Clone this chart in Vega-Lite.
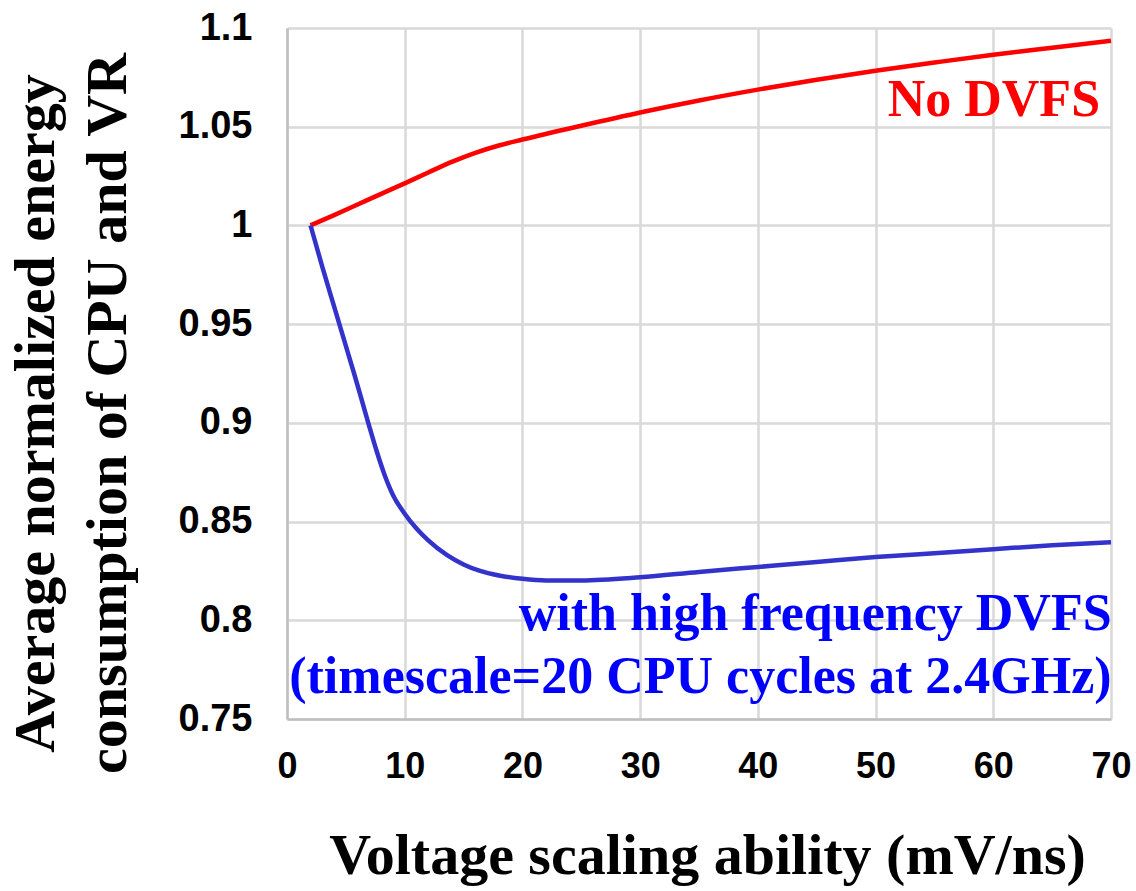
{
  "$schema": "https://vega.github.io/schema/vega-lite/v6.json",
  "width": 824,
  "height": 691,
  "autosize": {"type": "none"},
  "padding": {"left": 287, "top": 28, "right": 25, "bottom": 172},
  "background": "white",
  "config": {"view": {"stroke": null}},
  "datasets": {
    "curves": [
      {"series": "No DVFS", "x": 2, "y": 1.0},
      {"series": "No DVFS", "x": 4, "y": 1.0052},
      {"series": "No DVFS", "x": 6, "y": 1.0106},
      {"series": "No DVFS", "x": 8, "y": 1.016},
      {"series": "No DVFS", "x": 10, "y": 1.0213},
      {"series": "No DVFS", "x": 12, "y": 1.0268},
      {"series": "No DVFS", "x": 14, "y": 1.0322},
      {"series": "No DVFS", "x": 16, "y": 1.0368},
      {"series": "No DVFS", "x": 18, "y": 1.0405},
      {"series": "No DVFS", "x": 20, "y": 1.0435},
      {"series": "No DVFS", "x": 25, "y": 1.0505},
      {"series": "No DVFS", "x": 30, "y": 1.0572},
      {"series": "No DVFS", "x": 35, "y": 1.0633},
      {"series": "No DVFS", "x": 40, "y": 1.0688},
      {"series": "No DVFS", "x": 45, "y": 1.0738},
      {"series": "No DVFS", "x": 50, "y": 1.0783},
      {"series": "No DVFS", "x": 55, "y": 1.0825},
      {"series": "No DVFS", "x": 60, "y": 1.0865},
      {"series": "No DVFS", "x": 65, "y": 1.09},
      {"series": "No DVFS", "x": 70, "y": 1.0935},
      {"series": "High frequency DVFS", "x": 2, "y": 1.0},
      {"series": "High frequency DVFS", "x": 3, "y": 0.979},
      {"series": "High frequency DVFS", "x": 4, "y": 0.959},
      {"series": "High frequency DVFS", "x": 5, "y": 0.939},
      {"series": "High frequency DVFS", "x": 5.7, "y": 0.925},
      {"series": "High frequency DVFS", "x": 6.4, "y": 0.9105},
      {"series": "High frequency DVFS", "x": 7, "y": 0.898},
      {"series": "High frequency DVFS", "x": 7.6, "y": 0.886},
      {"series": "High frequency DVFS", "x": 8.3, "y": 0.8735},
      {"series": "High frequency DVFS", "x": 9, "y": 0.8635},
      {"series": "High frequency DVFS", "x": 10, "y": 0.854},
      {"series": "High frequency DVFS", "x": 11, "y": 0.8465},
      {"series": "High frequency DVFS", "x": 12, "y": 0.8405},
      {"series": "High frequency DVFS", "x": 13.6, "y": 0.833},
      {"series": "High frequency DVFS", "x": 15, "y": 0.8283},
      {"series": "High frequency DVFS", "x": 16.4, "y": 0.825},
      {"series": "High frequency DVFS", "x": 18, "y": 0.8227},
      {"series": "High frequency DVFS", "x": 20, "y": 0.821},
      {"series": "High frequency DVFS", "x": 22, "y": 0.8202},
      {"series": "High frequency DVFS", "x": 25, "y": 0.8202},
      {"series": "High frequency DVFS", "x": 30, "y": 0.8218},
      {"series": "High frequency DVFS", "x": 35, "y": 0.8245},
      {"series": "High frequency DVFS", "x": 40, "y": 0.827},
      {"series": "High frequency DVFS", "x": 45, "y": 0.8295},
      {"series": "High frequency DVFS", "x": 50, "y": 0.832},
      {"series": "High frequency DVFS", "x": 55, "y": 0.834},
      {"series": "High frequency DVFS", "x": 60, "y": 0.836},
      {"series": "High frequency DVFS", "x": 65, "y": 0.838},
      {"series": "High frequency DVFS", "x": 70, "y": 0.8395}
    ]
  },
  "layer": [
    {
      "data": {"name": "curves"},
      "mark": {"type": "line", "interpolate": "monotone", "strokeWidth": 4.5},
      "encoding": {
        "x": {
          "field": "x",
          "type": "quantitative",
          "scale": {"domain": [0, 70], "nice": false, "zero": false},
          "axis": {
            "title": "Voltage scaling ability (mV/ns)",
            "values": [0, 10, 20, 30, 40, 50, 60, 70],
            "labelFont": "Liberation Sans",
            "labelFontSize": 36,
            "labelFontWeight": "bold",
            "labelColor": "#000000",
            "labelPadding": 30,
            "labelFlush": false,
            "labelOverlap": false,
            "ticks": false,
            "domainColor": "#bfbfbf",
            "domainWidth": 2.5,
            "gridColor": "#d9d9d9",
            "gridWidth": 2.5,
            "titleFont": "Liberation Serif",
            "titleFontSize": 58,
            "titleFontWeight": "bold",
            "titleColor": "#000000",
            "titleX": 420,
            "titleY": 154,
            "titleAlign": "center",
            "titleBaseline": "alphabetic"
          }
        },
        "y": {
          "field": "y",
          "type": "quantitative",
          "scale": {"domain": [0.75, 1.1], "nice": false, "zero": false},
          "axis": {
            "title": ["Average normalized energy", "consumption of CPU and VR"],
            "values": [0.75, 0.8, 0.85, 0.9, 0.95, 1.0, 1.05, 1.1],
            "format": ".2~f",
            "labelFont": "Liberation Sans",
            "labelFontSize": 38,
            "labelFontWeight": "bold",
            "labelColor": "#000000",
            "labelPadding": 35,
            "labelOverlap": false,
            "ticks": false,
            "domainColor": "#bfbfbf",
            "domainWidth": 2.5,
            "gridColor": "#d9d9d9",
            "gridWidth": 2.5,
            "titleFont": "Liberation Serif",
            "titleFontSize": 58,
            "titleFontWeight": "bold",
            "titleColor": "#000000",
            "titleAngle": -90,
            "titleX": -234,
            "titleY": 385,
            "titleAlign": "center",
            "titleBaseline": "alphabetic",
            "titleLineHeight": 72
          }
        },
        "color": {
          "field": "series",
          "type": "nominal",
          "scale": {"domain": ["High frequency DVFS", "No DVFS"], "range": ["#3333cc", "#ff0000"]},
          "legend": null
        }
      }
    },
    {
      "data": {"values": [{}]},
      "mark": {"type": "text", "text": "No DVFS", "font": "Liberation Serif", "fontWeight": "bold", "fontSize": 52, "color": "#ff0000", "align": "right", "baseline": "alphabetic"},
      "encoding": {"x": {"datum": 69.07}, "y": {"datum": 1.0552}}
    },
    {
      "data": {"values": [{}]},
      "mark": {"type": "text", "text": ["with high frequency DVFS", "(timescale=20 CPU cycles at 2.4GHz)"], "font": "Liberation Serif", "fontWeight": "bold", "fontSize": 52, "lineHeight": 63, "color": "#0000ff", "align": "right", "baseline": "alphabetic"},
      "encoding": {"x": {"datum": 70.05}, "y": {"datum": 0.7953}}
    }
  ]
}
